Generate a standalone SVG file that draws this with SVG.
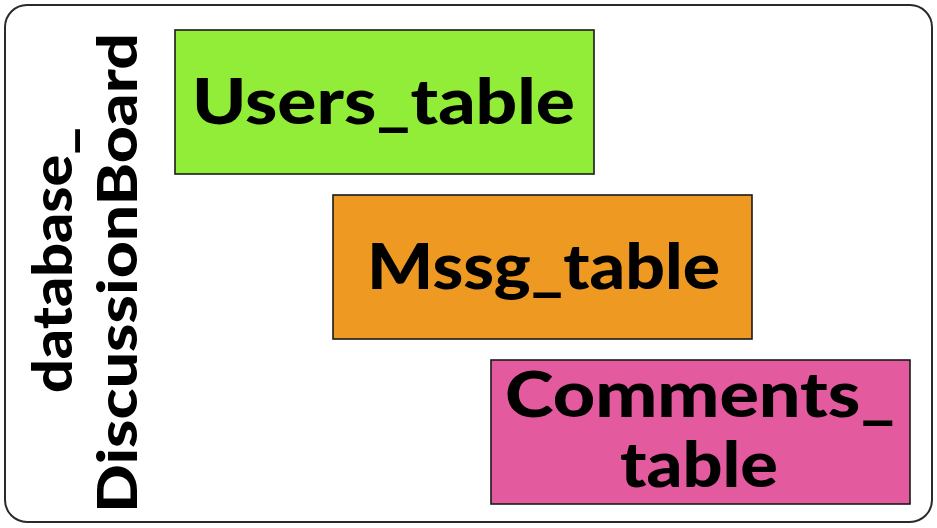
<svg xmlns="http://www.w3.org/2000/svg" width="937" height="528" viewBox="0 0 937 528">
<style>
.frame{fill:#fff;stroke:#2a2a2a;stroke-width:2}
.box{stroke:#1a1a1a;stroke-width:1.6}
.lbl{font-family:Lato,"Open Sans","Liberation Sans",sans-serif;font-weight:900;fill:#000}
</style>
<rect width="937" height="528" fill="#fff"/>
<g id="database">
<rect class="frame" x="5" y="5" width="927" height="517" rx="22" ry="22"/>
<text class="lbl" font-size="56" transform="translate(72,260) rotate(-90)" text-anchor="middle" textLength="266" lengthAdjust="spacingAndGlyphs">database_</text>
<text class="lbl" font-size="56" transform="translate(137,273) rotate(-90)" text-anchor="middle" textLength="480" lengthAdjust="spacingAndGlyphs">DiscussionBoard</text>
</g>
<g id="connectors"></g>
<g id="users">
<rect class="box" x="175" y="30" width="419" height="144" fill="#92ED38"/>
<text class="lbl" font-size="62" x="192" y="124" textLength="383" lengthAdjust="spacingAndGlyphs">Users_table</text>
</g>
<g id="mssg">
<rect class="box" x="333" y="195" width="419" height="144" fill="#EE9A22"/>
<text class="lbl" font-size="62" x="367" y="289" textLength="353" lengthAdjust="spacingAndGlyphs">Mssg_table</text>
</g>
<g id="comments">
<rect class="box" x="491" y="360" width="419" height="144" fill="#E35A9E"/>
<text class="lbl" font-size="62" x="505" y="417" textLength="390" lengthAdjust="spacingAndGlyphs">Comments_</text>
<text class="lbl" font-size="62" x="620" y="487" textLength="158" lengthAdjust="spacingAndGlyphs">table</text>
</g>
</svg>
